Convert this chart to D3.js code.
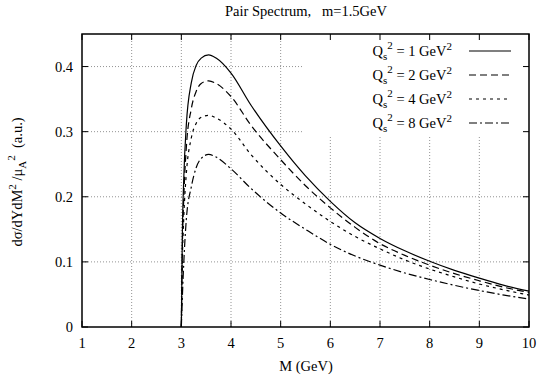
<!DOCTYPE html>
<html>
<head>
<meta charset="utf-8">
<script src="https://cdn.jsdelivr.net/npm/d3@7"></script>
<style>
  body { margin: 0; background: #fff; }
  text { font-family: "Liberation Serif", "DejaVu Serif", serif; fill: #000; }
</style>
</head>
<body>
<svg id="chart" width="538" height="376"></svg>
<script>
// values (M in GeV, dsigma in a.u.)
const mQ1 = [3.0, 3.02, 3.05, 3.1, 3.2, 3.3, 3.4, 3.55, 3.7, 4.0, 4.4, 5.0, 5.5, 6.0, 6.5, 7.0, 7.5, 8.0, 8.5, 9.0, 9.5, 10.0];
const q1 = [0, 0.14, 0.23, 0.31, 0.375, 0.402, 0.413, 0.418, 0.413, 0.390, 0.341, 0.278, 0.232, 0.193, 0.160, 0.136, 0.117, 0.101, 0.087, 0.075, 0.064, 0.055];
const q2 = [0, 0.12, 0.20, 0.275, 0.335, 0.362, 0.374, 0.378, 0.374, 0.354, 0.310, 0.257, 0.217, 0.183, 0.153, 0.128, 0.110, 0.095, 0.082, 0.071, 0.061, 0.053];
const q4 = [0, 0.10, 0.17, 0.235, 0.29, 0.313, 0.322, 0.325, 0.321, 0.304, 0.265, 0.219, 0.189, 0.162, 0.139, 0.120, 0.103, 0.089, 0.077, 0.066, 0.057, 0.049];
const q8 = [0, 0.045, 0.10, 0.165, 0.215, 0.245, 0.259, 0.265, 0.261, 0.243, 0.213, 0.175, 0.150, 0.127, 0.109, 0.095, 0.083, 0.073, 0.064, 0.056, 0.049, 0.043];

const qsLabels = ["1", "2", "4", "8"];
const xTicks = [1, 2, 3, 4, 5, 6, 7, 8, 9, 10];
const yTicks = [0, 0.1, 0.2, 0.3, 0.4];

const series = [q1, q2, q4, q8];
const dashes = [null, "7,4", "3,4", "8,3,2,3"];

const svg = d3.select("#chart");
const margin = {left: 82, right: 9, top: 34, bottom: 49};
const W = 538, H = 376;

const x = d3.scaleLinear().domain([1, 10]).range([margin.left, W - margin.right]);
const y = d3.scaleLinear().domain([0, 0.45]).range([H - margin.bottom, margin.top]);

// grid
const grid = svg.append("g")
  .attr("stroke", "#777")
  .attr("stroke-width", 0.8)
  .attr("stroke-dasharray", "1,2");
grid.selectAll(".gx").data(xTicks.slice(1, -1)).enter().append("line")
  .attr("x1", d => x(d)).attr("x2", d => x(d))
  .attr("y1", y(0)).attr("y2", y(0.45));
grid.selectAll(".gy").data(yTicks.slice(1)).enter().append("line")
  .attr("x1", x(1)).attr("x2", x(10))
  .attr("y1", d => y(d)).attr("y2", d => y(d));

// key box blanks the grid behind it
svg.append("rect")
  .attr("x", 303).attr("y", y(0.45))
  .attr("width", x(10) - 303).attr("height", 137 - y(0.45))
  .attr("fill", "#fff");

// curves
const line = d3.line()
  .x((d, i) => x(mQ1[i]))
  .y(d => y(d))
  .curve(d3.curveMonotoneX);

svg.append("g").selectAll("path").data(series).enter().append("path")
  .attr("d", d => line(d))
  .attr("fill", "none")
  .attr("stroke", "#000")
  .attr("stroke-width", 1.2)
  .attr("stroke-dasharray", (d, i) => dashes[i]);

// ticks, inward on all four sides
const ticks = svg.append("g").attr("stroke", "#000").attr("stroke-width", 1);
xTicks.forEach(t => {
  ticks.append("line").attr("x1", x(t)).attr("x2", x(t)).attr("y1", y(0)).attr("y2", y(0) - 6);
  ticks.append("line").attr("x1", x(t)).attr("x2", x(t)).attr("y1", y(0.45)).attr("y2", y(0.45) + 6);
});
yTicks.forEach(t => {
  ticks.append("line").attr("x1", x(1)).attr("x2", x(1) + 6).attr("y1", y(t)).attr("y2", y(t));
  ticks.append("line").attr("x1", x(10)).attr("x2", x(10) - 6).attr("y1", y(t)).attr("y2", y(t));
});

// frame
svg.append("rect")
  .attr("x", x(1)).attr("y", y(0.45))
  .attr("width", x(10) - x(1)).attr("height", y(0) - y(0.45))
  .attr("fill", "none").attr("stroke", "#000").attr("stroke-width", 1.5);

// tick labels
svg.append("g").selectAll("text").data(xTicks).enter().append("text")
  .attr("x", d => x(d)).attr("y", 348)
  .attr("text-anchor", "middle").attr("font-size", 14.5)
  .text(d => d);
svg.append("g").selectAll("text").data(yTicks).enter().append("text")
  .attr("x", 73).attr("y", d => y(d) + 5)
  .attr("text-anchor", "end").attr("font-size", 14.5)
  .text(d => d === 0 ? "0" : d3.format(".1f")(d));

// title and axis labels
svg.append("text").attr("x", 306).attr("y", 16)
  .attr("text-anchor", "middle").attr("font-size", 14.5)
  .attr("xml:space", "preserve")
  .text("Pair Spectrum,   m=1.5GeV");

svg.append("text").attr("x", 306).attr("y", 371)
  .attr("text-anchor", "middle").attr("font-size", 14.5)
  .text("M (GeV)");

const yl = svg.append("text")
  .attr("transform", "translate(22,182) rotate(-90)")
  .attr("text-anchor", "middle").attr("font-size", 14.5)
  .attr("xml:space", "preserve");
yl.append("tspan").text("dσ/dYdM");
yl.append("tspan").attr("dy", -6).attr("font-size", 11).text("2");
yl.append("tspan").attr("dy", 6).text(" /μ");
yl.append("tspan").attr("dy", 4).attr("font-size", 11).text("A");
yl.append("tspan").attr("dy", -11).attr("font-size", 11).text("2");
yl.append("tspan").attr("dy", 7).text("  (a.u.)");

// key
const key = svg.append("g");
qsLabels.forEach((q, i) => {
  const yy = 51 + i * 24;
  const t = key.append("text").attr("x", 452).attr("y", yy + 5)
    .attr("text-anchor", "end").attr("font-size", 14.5);
  t.append("tspan").text("Q");
  t.append("tspan").attr("dy", 4).attr("font-size", 11).text("s");
  t.append("tspan").attr("dy", -11).attr("font-size", 11).text("2");
  t.append("tspan").attr("dy", 7).text(" = " + q + " GeV");
  t.append("tspan").attr("dy", -6).attr("font-size", 11).text("2");
  key.append("line")
    .attr("x1", 469).attr("x2", 511).attr("y1", yy).attr("y2", yy)
    .attr("stroke", "#000").attr("stroke-width", 1.2)
    .attr("stroke-dasharray", dashes[i]);
});
</script>
</body>
</html>
